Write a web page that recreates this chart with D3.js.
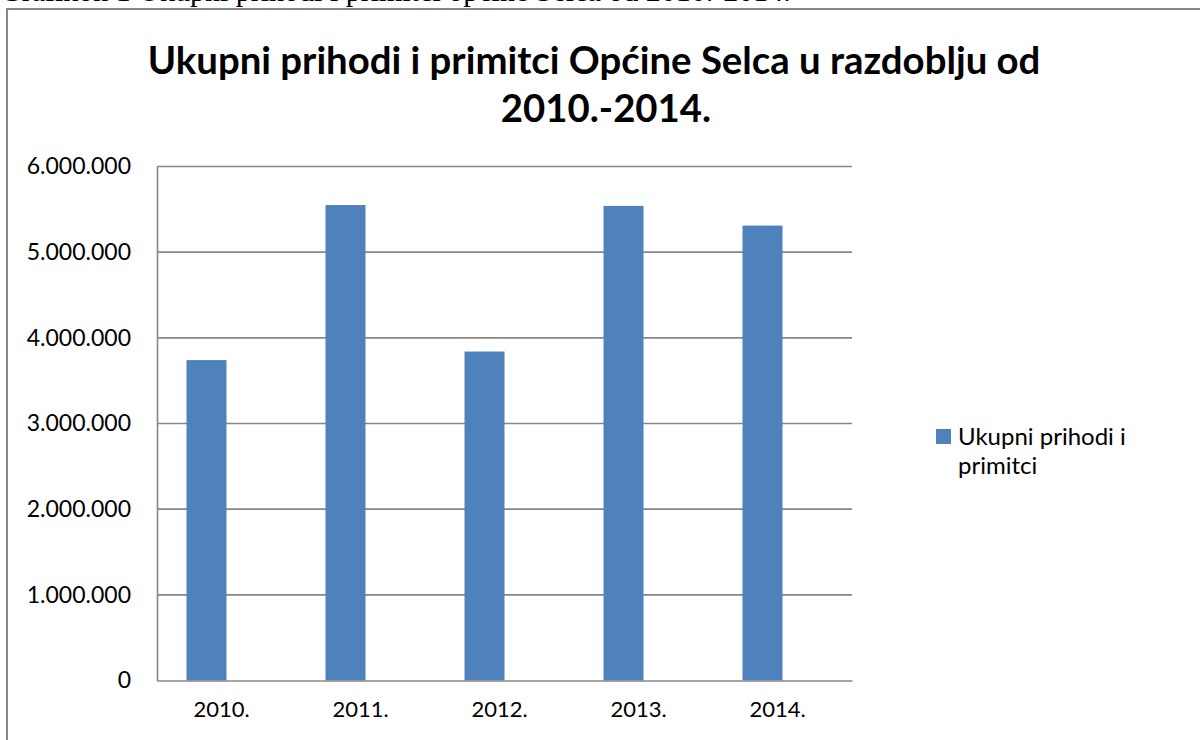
<!DOCTYPE html>
<html>
<head>
<meta charset="utf-8">
<script src="https://cdn.jsdelivr.net/npm/d3@7"></script>
<style>
  html, body { margin: 0; padding: 0; background: #fff; overflow: hidden; }
  svg { display: block; }
</style>
</head>
<body>
<script>
// data
const years = ['2010.', '2011.', '2012.', '2013.', '2014.']
const totals = [3740000, 5550000, 3840000, 5540000, 5310000]
const seriesNames = ['Ukupni prihodi i primitci', '']   // second slot is an empty series in the original
const yTicks = [0, 1000000, 2000000, 3000000, 4000000, 5000000, 6000000]

const W = 1200, H = 740
const PLOT = { left: 157, right: 852, top: 166.5, bottom: 680.5 }
const FONT = 'Lato, "Open Sans", sans-serif'
const BLUE = '#4f81bd', GRID = '#878787'

const svg = d3.select('body').append('svg')
  .attr('width', W).attr('height', H)

// caption of the document, cut off at the top edge
svg.append('text')
  .attr('x', 0).attr('y', 1)
  .attr('font-family', '"Liberation Serif", serif')
  .attr('font-size', 30)
  .text('Grafikon 1 Ukupni prihodi i primitci općine Selca od 2010.-2014.')

// chart frame
svg.append('rect')
  .attr('x', 7).attr('y', 9).attr('width', 1300).attr('height', 800)
  .attr('fill', 'none').attr('stroke', GRID).attr('stroke-width', 2)

// title
const title = svg.append('g')
  .attr('font-family', FONT).attr('font-weight', 'bold')
  .attr('text-anchor', 'middle').attr('fill', '#000')
const t1 = title.append('text').attr('x', 594).attr('y', 74)
  .attr('font-size', 36).text('Ukupni prihodi i primitci Općine Selca u razdoblju od')
const fit = 893 / t1.node().getComputedTextLength()
const titleSize = 36 * fit
t1.attr('font-size', titleSize)
title.append('text').attr('x', 606).attr('y', 122)
  .attr('font-size', titleSize).text('2010.-2014.')

// scales
const x = d3.scaleBand()
  .domain(years)
  .range([PLOT.left, PLOT.right])
  .paddingInner(0).paddingOuter(0)

const xSub = d3.scaleBand()
  .domain(seriesNames)
  .range([0, x.bandwidth()])
  .paddingOuter(0.7375).paddingInner(0)

const y = d3.scaleLinear()
  .domain([0, 6000000])
  .range([PLOT.bottom, PLOT.top])

const fmt = (v) => v === 0 ? '0' : d3.format(',')(v).replace(/,/g, '.')

// grid lines
svg.append('g')
  .selectAll('line')
  .data(yTicks.filter((d) => d > 0))
  .join('line')
  .attr('x1', PLOT.left).attr('x2', PLOT.right)
  .attr('y1', (d) => y(d)).attr('y2', (d) => y(d))
  .attr('stroke', GRID).attr('stroke-width', 1.6)

// bars
svg.append('g')
  .selectAll('rect')
  .data(years.map((yr, i) => ({ yr, v: totals[i] })))
  .join('rect')
  .attr('x', (d) => x(d.yr) + xSub(seriesNames[0]))
  .attr('width', xSub.bandwidth())
  .attr('y', (d) => y(d.v))
  .attr('height', (d) => y(0) - y(d.v))
  .attr('fill', BLUE)

// axes
const yAxis = svg.append('g')
  .attr('transform', 'translate(' + PLOT.left + ',0)')
  .call(d3.axisLeft(y).tickValues(yTicks).tickFormat(fmt).tickSize(0).tickPadding(26))
yAxis.select('.domain').attr('stroke', GRID).attr('stroke-width', 1.6)
yAxis.selectAll('text')
  .attr('font-family', FONT).attr('font-size', 23).attr('fill', '#000')

const xAxis = svg.append('g')
  .attr('transform', 'translate(0,' + PLOT.bottom + ')')
  .call(d3.axisBottom(x).tickSize(0).tickPadding(21))
xAxis.select('.domain').attr('stroke', GRID).attr('stroke-width', 1.6)
xAxis.selectAll('text')
  .attr('font-family', FONT).attr('font-size', 22).attr('fill', '#000')
  .attr('dx', -5)

// legend
const legend = svg.append('g')
  .attr('transform', 'translate(936,429)')
legend.append('rect')
  .attr('width', 15).attr('height', 15).attr('fill', BLUE)
legend.append('text')
  .attr('font-family', FONT).attr('font-size', 24).attr('fill', '#000')
  .selectAll('tspan')
  .data(['Ukupni prihodi i', 'primitci'])
  .join('tspan')
  .attr('x', 22).attr('y', (d, i) => 16 + i * 29)
  .text((d) => d)
</script>
</body>
</html>
